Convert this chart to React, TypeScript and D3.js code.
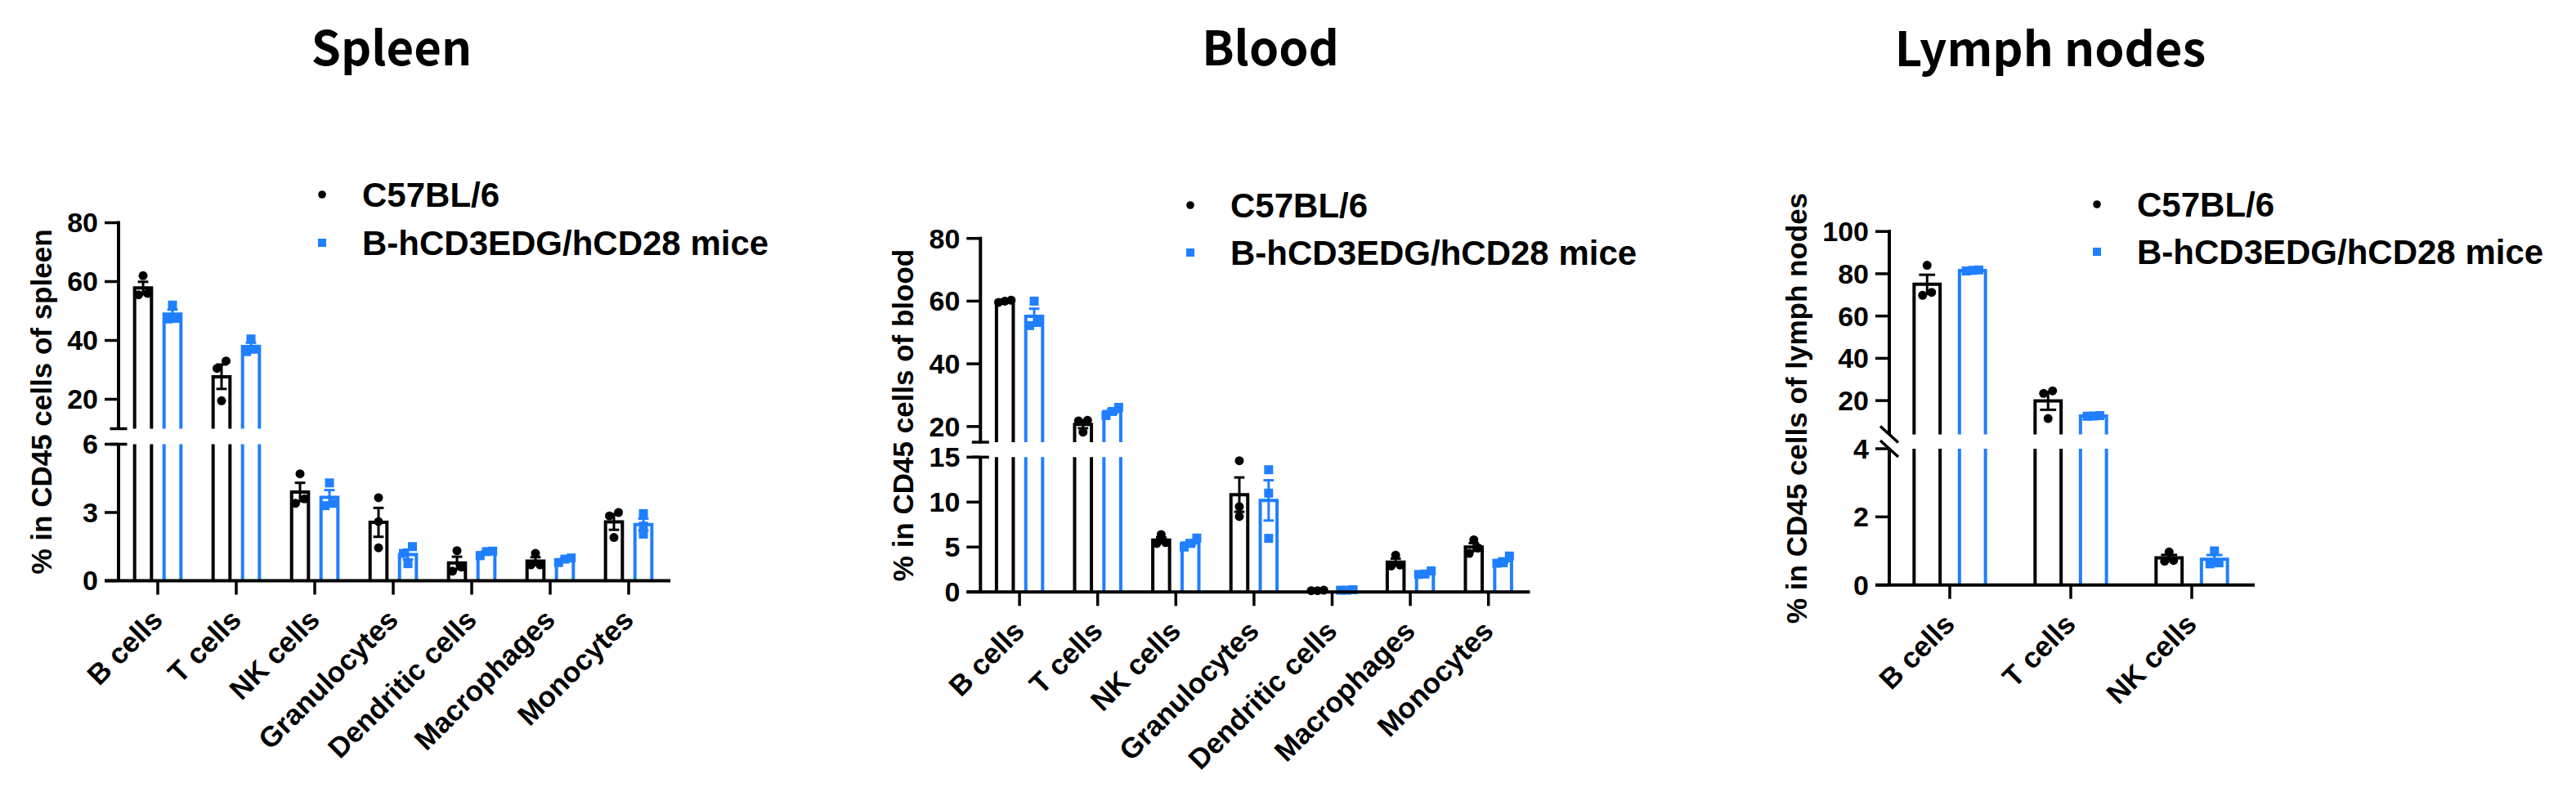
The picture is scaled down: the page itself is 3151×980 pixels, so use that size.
import React from 'react';
import * as d3 from 'd3';

// ---------- DATA ----------
const groups = ['C57BL/6', 'B-hCD3EDG/hCD28 mice'];
const groupColors = ['#000000', '#1f7fff'];

const spleenCategories = ['B cells', 'T cells', 'NK cells', 'Granulocytes', 'Dendritic cells', 'Macrophages', 'Monocytes'];
const spleenC57 = [[62, 56, 55.5], [33, 30.5, 19.5], [4.7, 3.6, 3.4], [3.65, 2.6, 1.45], [1.32, 0.6, 0.42], [1.2, 0.7, 0.7], [3.0, 2.85, 1.9]];
const spleenHumanized = [[52, 47.5, 47.3], [40.5, 36.2, 37], [4.3, 3.4, 3.3], [1.5, 1.2, 0.75], [1.1, 1.28, 1.3], [1.0, 0.8, 0.95], [2.95, 2.4, 2.05]];
const spleenUpperTicks = [20, 40, 60, 80];
const spleenLowerTicks = [0, 3, 6];

const bloodCategories = ['B cells', 'T cells', 'NK cells', 'Granulocytes', 'Dendritic cells', 'Macrophages', 'Monocytes'];
const bloodC57 = [[60.3, 60.0, 59.6], [22, 21.8, 18.2], [6.4, 5.5, 5.4], [14.6, 9.5, 8.4], [0.2, 0.15, 0.15], [4.1, 2.9, 3.0], [5.8, 4.3, 4.9]];
const bloodHumanized = [[60, 52.2, 53.2], [26.1, 23.5, 24.8], [6.0, 5.4, 5.0], [13.6, 11.0, 5.97], [0.25, 0.2, 0.2], [2.35, 2.0, 1.95], [4.0, 3.25, 3.2]];
const bloodUpperTicks = [20, 40, 60, 80];
const bloodLowerTicks = [0, 5, 10, 15];

const lymphCategories = ['B cells', 'T cells', 'NK cells'];
const lymphC57 = [[84, 69.8, 71.2], [24.6, 23.4, 11.5], [0.97, 0.72, 0.7]];
const lymphHumanized = [[81.8, 81.6, 81.3], [12.9, 12.6, 12.7], [1.0, 0.65, 0.62]];
const lymphUpperTicks = [20, 40, 60, 80, 100];
const lymphLowerTicks = [0, 2, 4];

// ---------- LAYOUT ----------
const ARIAL = '"Liberation Sans", Arial, Helvetica, sans-serif';
const TITLE_FONT = '"Noto Sans CJK SC", "Noto Sans", sans-serif';

const panels = [
  {
    title: 'Spleen', yLabel: '% in CD45 cells of spleen',
    categories: spleenCategories, series: [spleenC57, spleenHumanized],
    upperDomain: [10, 80], lowerDomain: [0, 6], upperTicks: spleenUpperTicks, lowerTicks: spleenLowerTicks,
    L: { axisX: 145, step: 96, upperRange: [524.5, 272.5], lowerRange: [710.5, 543.5], titleX: 479, titleY: 80,
      legendX: 394, legendY: [238, 297], labelX: 63, breakStyle: 'flat' },
  },
  {
    title: 'Blood', yLabel: '% in CD45 cells of blood',
    categories: bloodCategories, series: [bloodC57, bloodHumanized],
    upperDomain: [15, 80], lowerDomain: [0, 15], upperTicks: bloodUpperTicks, lowerTicks: bloodLowerTicks,
    L: { axisX: 1199.3, step: 95.6, upperRange: [541, 291.7], lowerRange: [724.3, 559.3], titleX: 1554, titleY: 80,
      legendX: 1456, legendY: [251, 309], labelX: 1117, breakStyle: 'flat' },
  },
  {
    title: 'Lymph nodes', yLabel: '% in CD45 cells of lymph nodes',
    categories: lymphCategories, series: [lymphC57, lymphHumanized],
    upperDomain: [4, 100], lowerDomain: [0, 4], upperTicks: lymphUpperTicks, lowerTicks: lymphLowerTicks,
    L: { axisX: 2311, step: 148, upperRange: [531.5, 283.2], lowerRange: [715.7, 549], titleX: 2508, titleY: 81,
      legendX: 2565, legendY: [250, 308], labelX: 2210, breakStyle: 'slash' },
  },
];

const AXIS_W = 4;
const TICK_LEN = 17;
const MARK = 11;

function swarm(values: number[], y: (v: number) => number, d: number) {
  const sorted = values.map((v, i) => ({ v, i, py: y(v) })).sort((a, b) => b.py - a.py);
  const clusters: any[][] = [];
  sorted.forEach((p) => {
    const last = clusters[clusters.length - 1];
    if (last && Math.abs(last[last.length - 1].py - p.py) < d * 0.85) last.push(p);
    else clusters.push([p]);
  });
  const out: { v: number; py: number; dx: number }[] = [];
  clusters.forEach((c) => {
    const k = c.length;
    const gap = k === 2 ? d : d * 0.7;
    c.forEach((p, j) => out.push({ v: p.v, py: p.py, dx: (j - (k - 1) / 2) * gap }));
  });
  return out;
}

function Panel({ cfg }: { cfg: any }) {
  const { title, yLabel, categories, series, upperDomain, lowerDomain, upperTicks, lowerTicks, L } = cfg;
  const x = d3.scaleBand().domain(categories).range([L.axisX, L.axisX + L.step * categories.length]);
  const step = x.bandwidth();
  const sub = d3.scaleBand().domain(groups).range([-0.375 * step, 0.375 * step]);
  const barW = 0.215 * step;
  const capW = barW * 0.62;
  const yU = d3.scaleLinear().domain(upperDomain).range(L.upperRange);
  const yL = d3.scaleLinear().domain(lowerDomain).range(L.lowerRange);
  const y = (v: number) => (v > lowerDomain[1] ? yU(Math.max(v, upperDomain[0])) : yL(v));
  const y0 = yL(0);
  const yTop = yU(upperDomain[1]);
  const yUpperEnd = yU(upperDomain[0]);
  const yLowerEnd = yL(lowerDomain[1]);
  const ax = L.axisX;

  const breakMarks = L.breakStyle === 'flat'
    ? [
        <line key="b1" x1={ax - 10.5} x2={ax + 10.5} y1={yUpperEnd} y2={yUpperEnd} stroke="#000" strokeWidth={3.5} />,
        <line key="b2" x1={ax - 10.5} x2={ax + 10.5} y1={yLowerEnd} y2={yLowerEnd} stroke="#000" strokeWidth={3.5} />,
      ]
    : [
        <line key="b1" x1={ax - 11} x2={ax + 11} y1={yUpperEnd - 10} y2={yUpperEnd + 10} stroke="#000" strokeWidth={3.5} />,
        <line key="b2" x1={ax - 11} x2={ax + 11} y1={yLowerEnd - 10} y2={yLowerEnd + 10} stroke="#000" strokeWidth={3.5} />,
      ];

  return (
    <g>
      <text x={L.titleX} y={L.titleY} textAnchor="middle" fontFamily={TITLE_FONT} fontWeight={700} fontSize={58}>{title}</text>

      {/* legend */}
      {groups.map((g, gi) => (
        <g key={g}>
          {gi === 0
            ? <circle cx={L.legendX} cy={L.legendY[gi]} r={4.8} fill={groupColors[gi]} />
            : <rect x={L.legendX - 5} y={L.legendY[gi] - 5} width={10} height={10} fill={groupColors[gi]} />}
          <text x={L.legendX + 49} y={L.legendY[gi]} dy="0.35em" fontFamily={ARIAL} fontWeight={700} fontSize={42}>{g}</text>
        </g>
      ))}

      {/* y label */}
      <text transform={`translate(${L.labelX},${(yTop + y0) / 2}) rotate(-90)`} textAnchor="middle" fontFamily={ARIAL} fontWeight={700} fontSize={35}>{yLabel}</text>

      {/* bars, error bars, points */}
      {categories.map((c: string, ci: number) => groups.map((g, gi) => {
        const vals: number[] = series[gi][ci];
        const mean = d3.mean(vals) as number;
        const sem = (d3.deviation(vals) as number) / Math.sqrt(vals.length);
        const cx = (x(c) as number) + step / 2 + (sub(g) as number) + sub.bandwidth() / 2;
        const l = cx - barW / 2, r = cx + barW / 2;
        const col = groupColors[gi];
        let barPaths: string[];
        if (mean <= lowerDomain[1]) {
          barPaths = [`M${l},${y0}V${yL(mean)}H${r}V${y0}`];
        } else {
          barPaths = [`M${l},${y0}V${yLowerEnd}M${r},${y0}V${yLowerEnd}`, `M${l},${yUpperEnd}V${yU(mean)}H${r}V${yUpperEnd}`];
        }
        const pts = swarm(vals, y, MARK);
        const eTop = y(mean + sem), eBot = y(mean - sem);
        return (
          <g key={c + g}>
            {barPaths.map((p, pi) => <path key={pi} d={p} fill="none" stroke={col} strokeWidth={4} />)}
            <line x1={cx} x2={cx} y1={eTop} y2={eBot} stroke={col} strokeWidth={3} />
            <line x1={cx - capW / 2} x2={cx + capW / 2} y1={eTop} y2={eTop} stroke={col} strokeWidth={3} />
            <line x1={cx - capW / 2} x2={cx + capW / 2} y1={eBot} y2={eBot} stroke={col} strokeWidth={3} />
            {pts.map((p, pi) => gi === 0
              ? <circle key={pi} cx={cx + p.dx} cy={p.py} r={5.5} fill={col} />
              : <rect key={pi} x={cx + p.dx - 5.5} y={p.py - 5.5} width={11} height={11} fill={col} />)}
          </g>
        );
      }))}

      {/* y axis */}
      <line x1={ax} x2={ax} y1={yTop - AXIS_W / 2} y2={yUpperEnd} stroke="#000" strokeWidth={AXIS_W} />
      <line x1={ax} x2={ax} y1={yLowerEnd} y2={y0} stroke="#000" strokeWidth={AXIS_W} />
      {breakMarks}
      {upperTicks.map((t: number) => (
        <g key={'u' + t}>
          <line x1={ax - TICK_LEN} x2={ax} y1={yU(t)} y2={yU(t)} stroke="#000" strokeWidth={3.5} />
          <text x={ax - TICK_LEN - 8} y={yU(t)} dy="0.35em" textAnchor="end" fontFamily={ARIAL} fontWeight={700} fontSize={34}>{t}</text>
        </g>
      ))}
      {lowerTicks.map((t: number) => (
        <g key={'l' + t}>
          <line x1={ax - TICK_LEN} x2={ax} y1={yL(t)} y2={yL(t)} stroke="#000" strokeWidth={3.5} />
          <text x={ax - TICK_LEN - 8} y={yL(t)} dy="0.35em" textAnchor="end" fontFamily={ARIAL} fontWeight={700} fontSize={34}>{t}</text>
        </g>
      ))}

      {/* x axis */}
      <line x1={ax - TICK_LEN} x2={x.range()[1] + 3} y1={y0} y2={y0} stroke="#000" strokeWidth={AXIS_W} />
      {categories.map((c: string) => {
        const cx = (x(c) as number) + step / 2;
        return (
          <g key={'x' + c}>
            <line x1={cx} x2={cx} y1={y0} y2={y0 + TICK_LEN} stroke="#000" strokeWidth={3.5} />
            <text transform={`translate(${cx + 8},${y0 + 50}) rotate(-45)`} textAnchor="end" fontFamily={ARIAL} fontWeight={700} fontSize={35}>{c}</text>
          </g>
        );
      })}
    </g>
  );
}

export default function App() {
  return (
    <div style={{ position: 'absolute', left: 0, top: 0, width: 3151, height: 980, background: '#fff' }}>
      <svg width={3151} height={980} viewBox="0 0 3151 980" style={{ display: 'block' }}>
        <rect width={3151} height={980} fill="#fff" />
        {panels.map((p) => <Panel key={p.title} cfg={p} />)}
      </svg>
    </div>
  );
}
